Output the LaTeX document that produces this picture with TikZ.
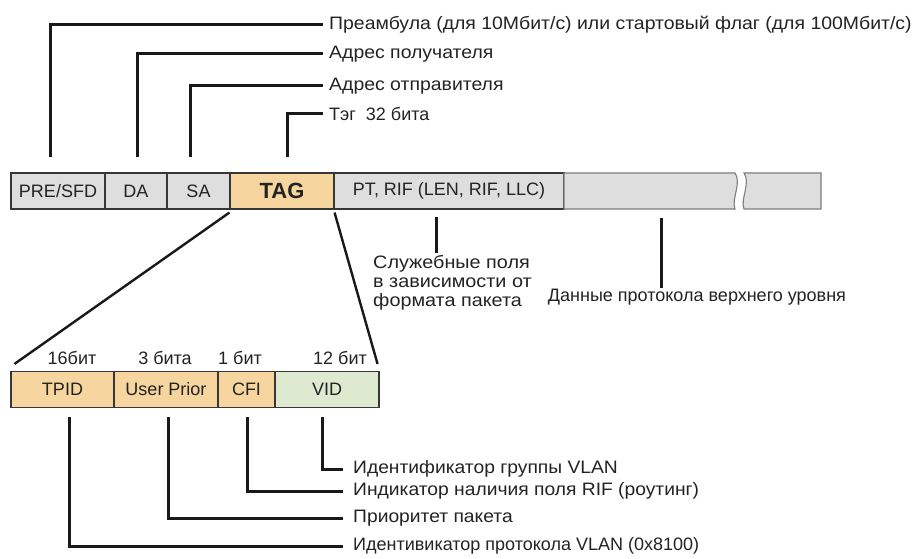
\documentclass[tikz,border=0pt]{standalone}
\usepackage{fontspec}
\setmainfont{Liberation Sans}
\newfontfamily\wideA[FakeStretch=1.08]{Liberation Sans}
\newfontfamily\wideB[FakeStretch=1.07]{Liberation Sans}
\newfontfamily\wideC[FakeStretch=1.10]{Liberation Sans}
\definecolor{boxgray}{RGB}{222,222,222}
\definecolor{tagor}{RGB}{246,214,158}
\definecolor{vidgr}{RGB}{221,234,208}
\definecolor{edge}{RGB}{55,55,55}
\definecolor{edgelight}{RGB}{125,125,125}
\definecolor{txt}{RGB}{35,35,35}
\tikzset{
  fbox/.style={draw=edge, line width=1.1pt, minimum height=36pt, inner sep=0pt, text=txt,
               font=\fontsize{18}{21}\selectfont},
  lbl/.style={inner sep=0pt, text=txt, font=\fontsize{18}{21}\selectfont},
  leader/.style={line width=3pt, line cap=butt, line join=miter, black!90},
  diag/.style={line width=2.4pt, black!90},
}
\begin{document}
\begin{tikzpicture}[x=1pt,y=-1pt]
\useasboundingbox[fill=white] (0,0) rectangle (913,559);
% ---- top frame
\node[fbox, fill=boxgray, minimum width=94pt] (pre) at (58,191) {PRE/SFD};
\node[fbox, fill=boxgray, minimum width=62pt] (da) at (136,191) {DA};
\node[fbox, fill=boxgray, minimum width=63pt] (sa) at (198.5,191) {SA};
\node[fbox, fill=tagor, minimum width=104pt, font=\fontsize{22}{24}\selectfont\bfseries] (tag) at (282,191) {TAG};
\node[fbox, fill=boxgray, minimum width=230pt] (pt) at (449,191) {PT, RIF (LEN, RIF, LLC)};
% data boxes with break
\draw[draw=edgelight, line width=1.1pt, fill=boxgray]
  (564,173) -- (735,173) .. controls (742,183) and (731,199) .. (735,209) -- (564,209) -- cycle;
\draw[draw=edgelight, line width=1.1pt, fill=boxgray]
  (744,173) -- (821,173) -- (821,209) -- (744,209) .. controls (740,199) and (751,183) .. (744,173) -- cycle;
\coordinate (datatop) at (661,218);
% ---- top labels
\node[lbl, anchor=west, font=\fontsize{18}{21}\wideA] (lpre) at (329,25) {Преамбула (для 10Мбит/с) или стартовый флаг (для 100Мбит/с)};
\node[lbl, anchor=west, font=\fontsize{18}{21}\wideA] (lda) at (329,54) {Адрес получателя};
\node[lbl, anchor=west, font=\fontsize{18}{21}\wideA] (lsa) at (329,86) {Адрес отправителя};
\node[lbl, anchor=west] (ltag) at (329,114) {Тэг\ \ 32 бита};
\coordinate (cpre) at (50,157);
\coordinate (cda) at (137,157);
\coordinate (csa) at (190,157);
\coordinate (ctag) at (287,157);
\draw[leader] (cpre) |- ([xshift=-6pt]lpre.west);
\draw[leader] (cda) |- ([xshift=-6pt]lda.west);
\draw[leader] (csa) |- ([xshift=-6pt]lsa.west);
\draw[leader] (ctag) |- ([xshift=-6pt]ltag.west);
% ---- middle annotations
\node[lbl, anchor=north west, align=left, font=\fontsize{18}{19}\wideC] (lsrv) at (373,255)
  {Служебные поля\\в зависимости от\\формата пакета};
\coordinate (cpt) at (436,217);
\draw[leader] (cpt) -- (436,253);
\node[lbl] (ldata) at (697,297) {Данные протокола верхнего уровня};
\draw[leader] (datatop) -- (661,288);
% ---- bottom frame
\node[fbox, fill=tagor, minimum width=103pt] (tpid) at (62.5,389.5) {TPID};
\node[fbox, fill=tagor, minimum width=104pt] (up) at (166,389.5) {User Prior};
\node[fbox, fill=tagor, minimum width=57pt] (cfi) at (246.5,389.5) {CFI};
\node[fbox, fill=vidgr, minimum width=104pt] (vid) at (327,389.5) {VID};
% zoom lines
\draw[diag] ([yshift=-3pt]tag.south west) -- ([xshift=4pt,yshift=7pt]tpid.north west);
\draw[diag] ([yshift=-3pt]tag.south east) -- ([xshift=-2pt,yshift=7pt]vid.north east);
% bit labels
\node[lbl] (b1) at (72,358) {16бит};
\node[lbl] (b2) at (165,358) {3 бита};
\node[lbl] (b3) at (240,358) {1 бит};
\node[lbl] (b4) at (340,358) {12 бит};
% ---- bottom labels
\node[lbl, anchor=west, font=\fontsize{18}{21}\wideB] (lvid) at (353,469) {Идентификатор группы VLAN};
\node[lbl, anchor=west, font=\fontsize{18}{21}\wideB] (lcfi) at (353,491) {Индикатор наличия поля RIF (роутинг)};
\node[lbl, anchor=west, font=\fontsize{18}{21}\wideB] (lup) at (353,518) {Приоритет пакета};
\node[lbl, anchor=west] (ltpid) at (353,546) {Идентивикатор протокола VLAN (0x8100)};
\coordinate (cvid) at (322,417);
\coordinate (ccfi) at (247,417);
\coordinate (cup) at (168,417);
\coordinate (ctpid) at (69,417);
\draw[leader] (cvid) |- ([xshift=-10pt]lvid.west);
\draw[leader] (ccfi) |- ([xshift=-10pt]lcfi.west);
\draw[leader] (cup) |- ([xshift=-10pt]lup.west);
\draw[leader] (ctpid) |- ([xshift=-10pt]ltpid.west);
\end{tikzpicture}
\end{document}
